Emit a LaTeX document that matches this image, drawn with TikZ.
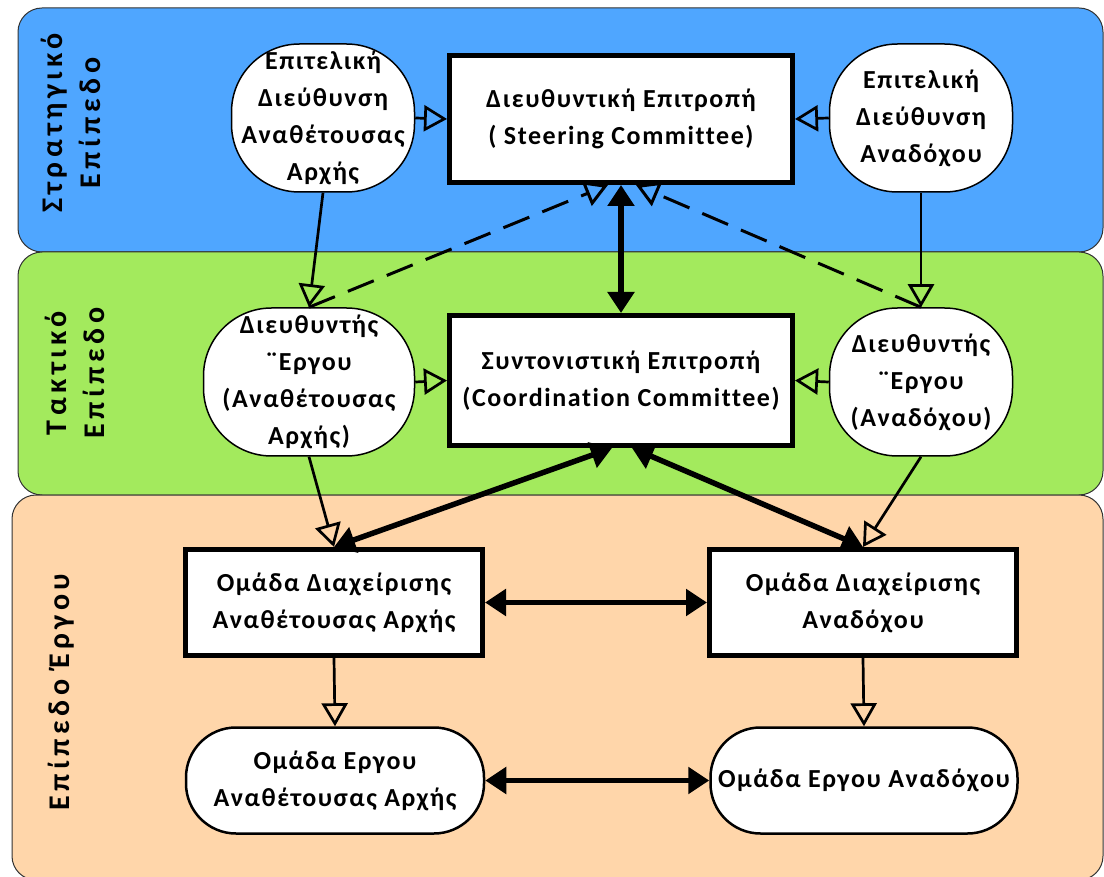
\documentclass[tikz,border=0pt]{standalone}
\usepackage{fontspec}
\setmainfont{Carlito}
\newfontfamily\boxfont[LetterSpace=6, Ligatures=NoCommon]{Carlito}
\newfontfamily\levelfont[LetterSpace=15, Ligatures=NoCommon]{Carlito}
\usetikzlibrary{arrows.meta}

\definecolor{strategicblue}{RGB}{79,166,255}
\definecolor{tacticgreen}{RGB}{163,234,93}
\definecolor{projectpeach}{RGB}{255,214,170}

\begin{document}
\begin{tikzpicture}[
    x=1pt, y=-1pt,
    band/.style={draw=black!80, line width=1pt, rounded corners=24pt},
    level/.style={rotate=90, align=center, font=\levelfont\bfseries\fontsize{30}{38}\selectfont},
    committee/.style={rectangle, draw, fill=white, line width=5pt, minimum width=343pt, align=center, inner sep=2pt, font=\boxfont\bfseries\fontsize{26}{37}\selectfont},
    role/.style={rectangle, draw, fill=white, line width=1.5pt, rounded corners=68pt, minimum height=148pt, align=center, inner sep=2pt, font=\boxfont\bfseries\fontsize{26}{37}\selectfont},
    team/.style={rectangle, draw, fill=white, line width=5pt, minimum height=106pt, align=center, inner sep=2pt, font=\boxfont\bfseries\fontsize{26}{37}\selectfont},
    crew/.style={rectangle, draw, fill=white, line width=2.5pt, rounded corners=50pt, minimum height=106pt, align=center, inner sep=2pt, font=\boxfont\bfseries\fontsize{26}{37}\selectfont},
    arrow/.style={-{Triangle[open, length=23pt, width=26pt]}, line width=2.7pt},
    report/.style={arrow, line width=3pt, dash pattern=on 28pt off 14pt},
    link/.style={{Triangle[length=21pt, width=26pt]}-{Triangle[length=21pt, width=26pt]}, line width=5.5pt}
]
\useasboundingbox (0,0) rectangle (1104,877);

% Levels
\draw[band, fill=strategicblue] (18,8) rectangle (1103,252);
\draw[band, fill=tacticgreen] (18,252) rectangle (1103,495);
\draw[band, fill=projectpeach] (12,495) rectangle (1103,880);

\node (StrategicLevel) [level] at (71,123) {Στρατηγικό\\Επίπεδο};
\node (TacticLevel) [level] at (75,373) {Τακτικό\\Επίπεδο};
\node (ProjectLevel) [level] at (61,692) {Επίπεδο Έργου};

% Nodes
\node (SteeringCommittee) [committee, minimum height=127pt] at (621,119) {Διευθυντική Επιτροπή\\( Steering Committee)};
\node (ExecOwner) [role, minimum width=183pt] at (323,118) {Επιτελική\\Διεύθυνση\\Αναθέτουσας\\Αρχής};
\node (ExecContractor) [role, minimum width=183pt] at (921,118) {Επιτελική\\Διεύθυνση\\Αναδόχου};

\node (CoordCommittee) [committee, minimum height=130pt] at (621,380.5) {Συντονιστική Επιτροπή\\(Coordination Committee)};
\node (ManagerOwner) [role, minimum width=211pt] at (309,382) {Διευθυντής\\¨Εργου\\(Αναθέτουσας\\Αρχής)};
\node (ManagerContractor) [role, minimum width=183pt] at (921,382) {Διευθυντής\\¨Εργου\\(Αναδόχου)};

\node (MgmtOwner) [team, minimum width=297pt] at (334,602.5) {Ομάδα Διαχείρισης\\Αναθέτουσας Αρχής};
\node (MgmtContractor) [team, minimum width=307pt] at (863,602.5) {Ομάδα Διαχείρισης\\Αναδόχου};

\node (TeamOwner) [crew, minimum width=298pt] at (335,780.5) {Ομάδα Εργου\\Αναθέτουσας Αρχής};
\node (TeamContractor) [crew, minimum width=307pt] at (864,780.5) {Ομάδα Εργου Αναδόχου};

% Arrows
\draw [arrow] (ExecOwner.east) -- (SteeringCommittee.west);
\draw [arrow] (ExecContractor.west) -- (SteeringCommittee.east);
\draw [arrow] (ExecOwner.south) -- (ManagerOwner.north);
\draw [arrow] (ExecContractor.south) -- (ManagerContractor.north);
\draw [report] (ManagerOwner.north) -- ([xshift=-13pt]SteeringCommittee.south);
\draw [report] (ManagerContractor.north) -- ([xshift=15pt]SteeringCommittee.south);
\draw [link] (SteeringCommittee.south) -- (CoordCommittee.north);

\draw [arrow] (ManagerOwner.east) -- (CoordCommittee.west);
\draw [arrow] (ManagerContractor.west) -- (CoordCommittee.east);
\draw [arrow] (ManagerOwner.south) -- (MgmtOwner.north);
\draw [arrow] (ManagerContractor.south) -- (MgmtContractor.north);
\draw [link] ([xshift=-9pt]CoordCommittee.south) -- (MgmtOwner.north);
\draw [link] ([xshift=11pt]CoordCommittee.south) -- (MgmtContractor.north);

\draw [link] (MgmtOwner.east) -- (MgmtContractor.west);
\draw [arrow] (MgmtOwner.south) -- (TeamOwner.north);
\draw [arrow] (MgmtContractor.south) -- (TeamContractor.north);
\draw [link] (TeamOwner.east) -- (TeamContractor.west);

\end{tikzpicture}
\end{document}
